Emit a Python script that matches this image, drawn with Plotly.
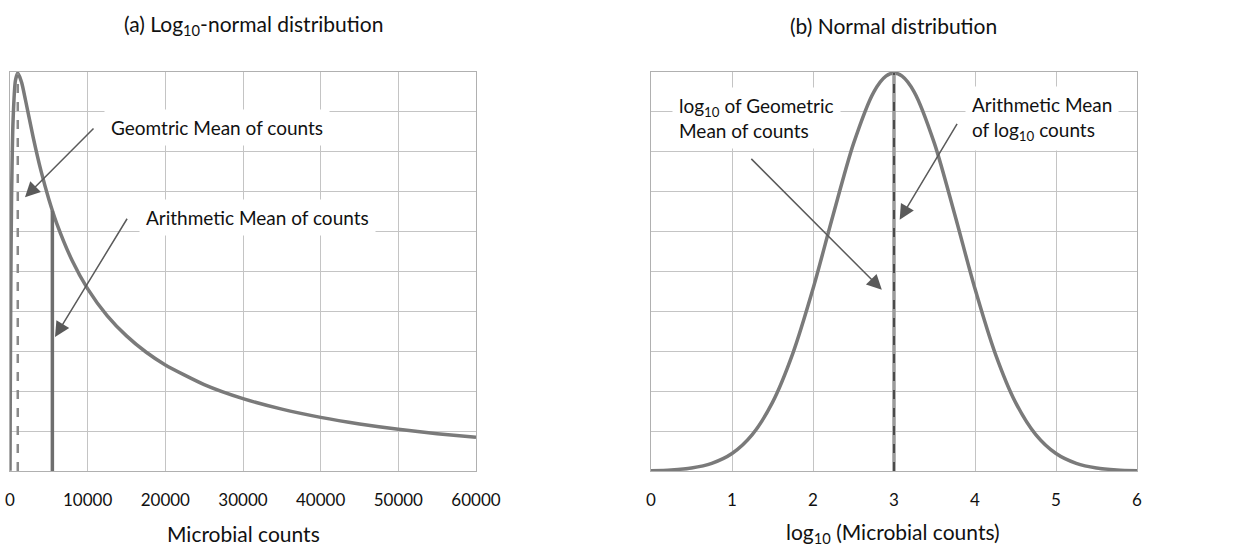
import plotly.graph_objects as go

# ---------------- data ----------------
# (a) curve: counts vs. height
counts = [1, 10, 30, 100, 200, 400, 700, 1000, 1500, 2000, 3000, 4000, 5000, 6000, 8000,
          10000, 12500, 15000, 17500, 20000, 25000, 30000, 35000, 40000, 45000, 50000, 55000, 60000]
counts_density = [0.0004, 0.0219, 0.0815, 0.2283, 0.3405, 0.4407, 0.4894, 0.4987, 0.4868, 0.4646,
                  0.4175, 0.3757, 0.3405, 0.3107, 0.2638, 0.2283, 0.1948, 0.1693, 0.1491, 0.1329,
                  0.1083, 0.0907, 0.0775, 0.0672, 0.0590, 0.0523, 0.0468, 0.0422]

# (b) curve: log10 counts vs. height
log_counts = [0, 0.25, 0.5, 0.75, 1, 1.25, 1.5, 1.75, 2, 2.25, 2.5, 2.75, 2.9, 3,
              3.1, 3.25, 3.5, 3.75, 4, 4.25, 4.5, 4.75, 5, 5.25, 5.5, 5.75, 6]
log_density = [0.0004, 0.0014, 0.0038, 0.0096, 0.0219, 0.0456, 0.0860, 0.1471, 0.2283, 0.3214,
               0.4102, 0.4749, 0.4948, 0.4987, 0.4948, 0.4749, 0.4102, 0.3214, 0.2283, 0.1471,
               0.0860, 0.0456, 0.0219, 0.0096, 0.0038, 0.0014, 0.0004]

# mean markers
geo_mean_x, geo_mean_y = 1000, 0.4987
arith_mean_x, arith_mean_y = 5456, 0.326
log_mean_x, log_mean_y = 3, 0.4987

# ticks
x1_ticks = [0, 10000, 20000, 30000, 40000, 50000, 60000]
x2_ticks = [0, 1, 2, 3, 4, 5, 6]
y_ticks = [0, 0.05, 0.1, 0.15, 0.2, 0.25, 0.3, 0.35, 0.4, 0.45, 0.5]

titles = ["(a) Log<sub>10</sub>-normal distribution", "(b) Normal distribution"]
xtitles = ["Microbial counts", "log<sub>10</sub> (Microbial counts)"]

FONT = "Lato"
CURVE = "#7a7a7a"
GRID = "#c4c4c4"

fig = go.Figure()

# (a)
fig.add_trace(go.Scatter(x=counts, y=counts_density, mode="lines",
                         line=dict(color=CURVE, width=3.5, shape="spline", smoothing=0.6),
                         xaxis="x", yaxis="y", showlegend=False))
fig.add_trace(go.Scatter(x=[geo_mean_x, geo_mean_x], y=[0, geo_mean_y], mode="lines",
                         line=dict(color="#8a8a8a", width=2.5, dash="dash"),
                         xaxis="x", yaxis="y", showlegend=False))
fig.add_trace(go.Scatter(x=[arith_mean_x, arith_mean_x], y=[0, arith_mean_y], mode="lines",
                         line=dict(color="#6e6e6e", width=3.5),
                         xaxis="x", yaxis="y", showlegend=False))

# (b)
fig.add_trace(go.Scatter(x=log_counts, y=log_density, mode="lines",
                         line=dict(color=CURVE, width=3.5, shape="spline", smoothing=0.8),
                         xaxis="x2", yaxis="y2", showlegend=False))
fig.add_trace(go.Scatter(x=[log_mean_x, log_mean_x], y=[0, log_mean_y], mode="lines",
                         line=dict(color="#9a9a9a", width=3.5),
                         xaxis="x2", yaxis="y2", showlegend=False))
fig.add_trace(go.Scatter(x=[log_mean_x, log_mean_x], y=[0, log_mean_y], mode="lines",
                         line=dict(color="#4a4a4a", width=2, dash="dash"),
                         xaxis="x2", yaxis="y2", showlegend=False))

W, H = 1235, 548
ydom = [1 - 471 / H, 1 - 72 / H]

axis_common = dict(showgrid=True, gridcolor=GRID, gridwidth=1,
                   zeroline=False, showline=True, linecolor="#b0b0b0", linewidth=1, mirror=True,
                   ticks="", automargin=False,
                   tickfont=dict(family=FONT, size=17, color="#111"))

fig.update_layout(
    width=W, height=H,
    margin=dict(l=0, r=0, t=0, b=0, autoexpand=False),
    paper_bgcolor="white", plot_bgcolor="white",
    xaxis=dict(domain=[10 / W, 476 / W], range=[0, 60000], tickvals=x1_ticks,
               ticktext=[str(v) for v in x1_ticks], anchor="y", ticklabelstandoff=14,
               **axis_common),
    yaxis=dict(domain=ydom, range=[0, 0.5], tickvals=y_ticks, showticklabels=False,
               anchor="x", **axis_common),
    xaxis2=dict(domain=[651 / W, 1137 / W], range=[0, 6], tickvals=x2_ticks,
                ticktext=[str(v) for v in x2_ticks], anchor="y2", ticklabelstandoff=14,
                **axis_common),
    yaxis2=dict(domain=ydom, range=[0, 0.5], tickvals=y_ticks, showticklabels=False,
                anchor="x2", **axis_common),
)

txt = dict(family=FONT, size=19, color="#111")

# panel titles and axis titles
for cx, t in zip([253 / W, 893 / W], titles):
    fig.add_annotation(x=cx, y=1 - 25 / H, xref="paper", yref="paper", text=t,
                       showarrow=False, font=dict(family=FONT, size=21, color="#111"),
                       xanchor="center", yanchor="middle")
for cx, t in zip([243 / W, 893 / W], xtitles):
    fig.add_annotation(x=cx, y=1 - 533 / H, xref="paper", yref="paper", text=t,
                       showarrow=False, font=dict(family=FONT, size=21, color="#111"),
                       xanchor="center", yanchor="middle")

# label boxes
labels = [
    dict(x=26652, y=0.430, text="Geomtric Mean of counts", xref="x", yref="y", xanchor="center"),
    dict(x=31802, y=0.318, text="Arithmetic Mean of counts", xref="x", yref="y", xanchor="center"),
    dict(x=0.26, y=0.442, text="log<sub>10</sub> of Geometric<br>Mean of counts", xref="x2", yref="y2", xanchor="left"),
    dict(x=3.88, y=0.442, text="Arithmetic Mean<br>of log<sub>10</sub> counts", xref="x2", yref="y2", xanchor="left"),
]
for lb in labels:
    fig.add_annotation(showarrow=False, font=txt, align="left", yanchor="middle",
                       bgcolor="white", borderpad=6, **lb)

# arrows: (tip x, tip y, tail x, tail y, axis)
arrows = [
    (1931, 0.343, 10944, 0.431, "x", "y"),
    (5794, 0.168, 15193, 0.318, "x", "y"),
    (2.85, 0.227, 1.22, 0.393, "x2", "y2"),
    (3.07, 0.315, 3.79, 0.437, "x2", "y2"),
]
for tx, ty, sx, sy, xr, yr in arrows:
    fig.add_annotation(x=tx, y=ty, ax=sx, ay=sy, xref=xr, yref=yr, axref=xr, ayref=yr,
                       text="", showarrow=True, arrowhead=2, arrowsize=2, arrowwidth=1.5,
                       arrowcolor="#5a5a5a")

fig.write_html("out.html", config={"displayModeBar": False},
               post_script="document.body.style.margin='0';document.body.style.overflow='hidden';")
